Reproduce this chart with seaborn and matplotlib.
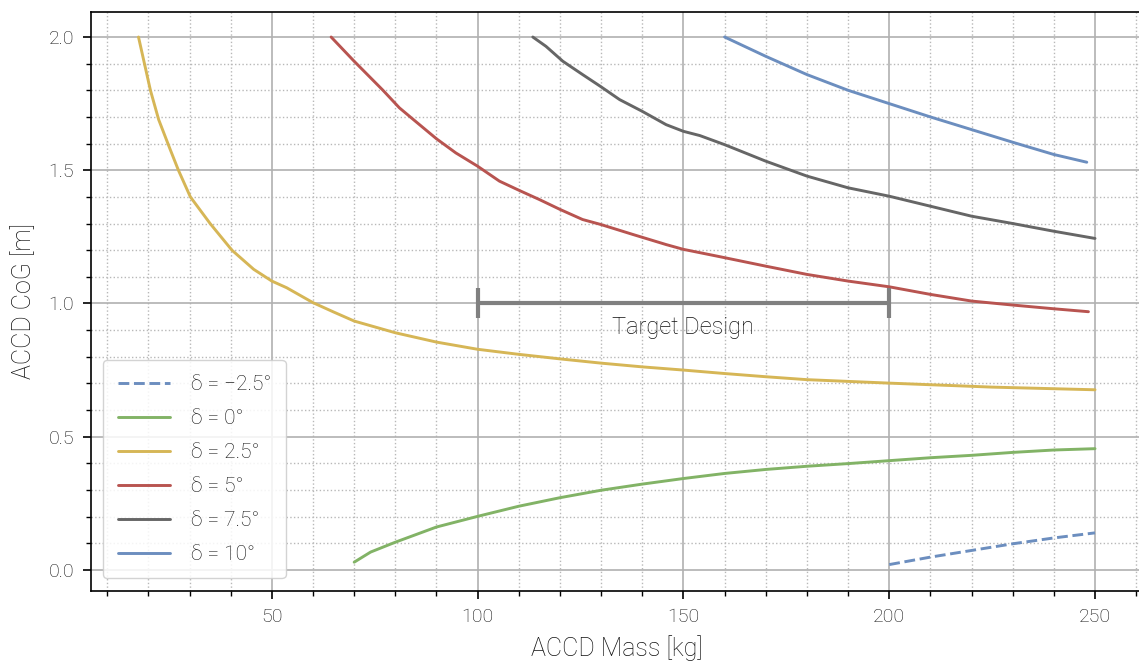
import numpy as np
import pandas as pd
import matplotlib
matplotlib.use("Agg")
import matplotlib.pyplot as plt
from matplotlib.ticker import MultipleLocator
import seaborn as sns

# ---- data ----
mass_m25 = [200, 210, 220, 230, 240, 250]
cog_m25 = [0.020, 0.048, 0.073, 0.098, 0.120, 0.139]

mass_0 = [70, 74, 80, 90, 100, 110, 120, 130, 140, 150, 160, 170, 180, 190, 200, 210, 220, 230, 240, 250]
cog_0 = [0.029, 0.067, 0.104, 0.161, 0.201, 0.239, 0.271, 0.299, 0.322, 0.343, 0.362, 0.377,
         0.389, 0.399, 0.410, 0.421, 0.430, 0.441, 0.450, 0.455]

mass_25 = [17.6, 20.5, 22.5, 25.3, 27.3, 30.2, 35, 40.3, 45.6, 50, 53.6, 60, 65, 70, 80, 90, 100,
           110, 120, 130, 140, 150, 160, 170, 180, 200, 225, 250]
cog_25 = [2.0, 1.80, 1.69, 1.578, 1.50, 1.40, 1.30, 1.20, 1.128, 1.084, 1.059, 1.003, 0.968, 0.934,
          0.89, 0.855, 0.828, 0.809, 0.792, 0.776, 0.762, 0.750, 0.737, 0.725, 0.714, 0.701, 0.686, 0.676]

mass_5 = [64.4, 70, 77, 81, 84.4, 90, 94.7, 100, 105.3, 110, 115, 120, 125.5, 130, 137.7, 145.8,
          150, 159, 170, 180, 190, 200, 210, 220, 230, 240, 248.4]
cog_5 = [2.0, 1.909, 1.80, 1.734, 1.69, 1.618, 1.565, 1.515, 1.459, 1.425, 1.39, 1.353, 1.315, 1.296,
         1.259, 1.221, 1.203, 1.175, 1.14, 1.109, 1.084, 1.0625, 1.034, 1.009, 0.994, 0.98, 0.969]

mass_75 = [113.4, 116.6, 120.7, 125.5, 129.8, 134.5, 140, 145.8, 150, 154, 160, 170, 180, 190, 200,
           210, 220, 230, 240, 250]
cog_75 = [2.0, 1.965, 1.909, 1.859, 1.815, 1.765, 1.721, 1.671, 1.646, 1.63, 1.596, 1.534, 1.478,
          1.434, 1.4025, 1.365, 1.3275, 1.30, 1.271, 1.244]

mass_10 = [160, 170, 180, 190, 200, 210, 220, 230, 240, 248]
cog_10 = [2.0, 1.9275, 1.859, 1.80, 1.75, 1.70, 1.6525, 1.605, 1.559, 1.53]

labels = ["δ = −2.5°", "δ = 0°", "δ = 2.5°", "δ = 5°", "δ = 7.5°", "δ = 10°"]
colors = ["#6c8ebf", "#82b366", "#d6b656", "#b85450", "#666666", "#6c8ebf"]
styles = ["--", "-", "-", "-", "-", "-"]

target_mass = [100, 200]
target_cog = 1.0
target_label = "Target Design"

# ---- plot ----
sns.set_theme(style="white")
plt.rcParams["font.family"] = ["Roboto", "DejaVu Sans"]
plt.rcParams["font.weight"] = "light"
TXT = "#111111"

fig = plt.figure(figsize=(11.39, 6.64), dpi=100)
ax = fig.add_axes([0.0796, 0.110, 0.9237, 0.872])

series = [(mass_m25, cog_m25), (mass_0, cog_0), (mass_25, cog_25),
          (mass_5, cog_5), (mass_75, cog_75), (mass_10, cog_10)]
for (mx, cy), lab, col, ls in zip(series, labels, colors, styles):
    sns.lineplot(x=mx, y=cy, ax=ax, color=col, linestyle=ls, linewidth=2.1,
                 label=lab, sort=False, estimator=None)

# target design bar
tx = np.mean(target_mass)
ax.errorbar([tx], [target_cog], xerr=[[tx - target_mass[0]], [target_mass[1] - tx]],
            fmt="none", ecolor="#808080", elinewidth=3, capsize=11, capthick=3, zorder=3)
ax.text(tx, target_cog - 0.092, target_label, ha="center", va="center",
        fontsize=17, fontweight="light", color=TXT)

ax.set_xlim(5.98, 261.6)
ax.set_ylim(-0.079, 2.094)
ax.xaxis.set_major_locator(MultipleLocator(50))
ax.xaxis.set_minor_locator(MultipleLocator(10))
ax.yaxis.set_major_locator(MultipleLocator(0.5))
ax.yaxis.set_minor_locator(MultipleLocator(0.1))
ax.set_xticks([50, 100, 150, 200, 250])

ax.grid(which="major", color="#b0b0b0", linewidth=1.2, linestyle="-")
ax.grid(which="minor", color="#b8b8b8", linewidth=1.0, linestyle=":")
ax.set_axisbelow(True)

for s in ax.spines.values():
    s.set_color("black")
    s.set_linewidth(1.2)
ax.tick_params(which="major", direction="out", length=6, width=1.2, color="black",
               labelsize=14, bottom=True, left=True, pad=6, labelcolor=TXT)
ax.tick_params(which="minor", direction="out", length=3.5, width=1.0, color="black",
               bottom=True, left=True)
for t in ax.get_xticklabels() + ax.get_yticklabels():
    t.set_fontweight("light")

ax.set_xlabel("ACCD Mass [kg]", fontsize=18, fontweight="light", color=TXT, labelpad=7)
ax.set_ylabel("ACCD CoG [m]", fontsize=18, fontweight="light", color=TXT, labelpad=9)

leg = ax.legend(loc="lower left", fontsize=15, handlelength=2.5, labelspacing=0.72,
                handletextpad=1.0, borderpad=0.7, frameon=True, fancybox=True,
                framealpha=0.85, edgecolor="#cccccc", borderaxespad=0.6)
for t in leg.get_texts():
    t.set_fontweight("light")
    t.set_color(TXT)

fig.savefig("out.png", dpi=100)
